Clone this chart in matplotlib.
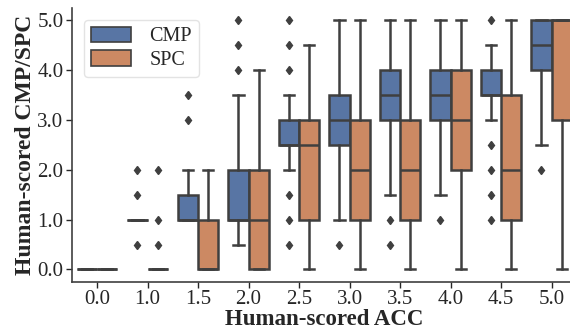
import numpy as np
import matplotlib
matplotlib.use('Agg')
import matplotlib.pyplot as plt
from matplotlib.patches import Patch

# categories on x axis (human-scored ACC)
cats = ['0.0', '1.0', '1.5', '2.0', '2.5', '3.0', '3.5', '4.0', '4.5', '5.0']

# CMP box statistics per category
cmp_q1 = [0.0, 1.0, 1.0, 1.0, 2.5, 2.5, 3.0, 3.0, 3.5, 4.0]
cmp_med = [0.0, 1.0, 1.0, 1.0, 2.5, 3.0, 3.5, 3.5, 3.5, 4.5]
cmp_q3 = [0.0, 1.0, 1.5, 2.0, 3.0, 3.5, 4.0, 4.0, 4.0, 5.0]
cmp_lo = [0.0, 1.0, 1.0, 0.5, 2.0, 1.0, 1.5, 1.5, 3.0, 2.5]
cmp_hi = [0.0, 1.0, 2.0, 3.5, 3.5, 5.0, 5.0, 5.0, 4.5, 5.0]
cmp_fliers = [[], [0.5, 1.5, 2.0], [3.0, 3.5], [4.0, 4.5, 5.0],
              [0.5, 1.0, 1.5, 4.0, 4.5, 5.0], [0.5], [0.5, 1.0], [1.0],
              [1.0, 1.5, 2.0, 2.5, 5.0], [2.0]]

# SPC box statistics per category
spc_q1 = [0.0, 0.0, 0.0, 0.0, 1.0, 1.0, 1.0, 2.0, 1.0, 3.0]
spc_med = [0.0, 0.0, 0.0, 1.0, 2.5, 2.0, 2.0, 3.0, 2.0, 5.0]
spc_q3 = [0.0, 0.0, 1.0, 2.0, 3.0, 3.0, 3.0, 4.0, 3.5, 5.0]
spc_lo = [0.0, 0.0, 0.0, 0.0, 0.0, 0.0, 0.0, 0.0, 0.0, 0.0]
spc_hi = [0.0, 0.0, 2.0, 4.0, 4.5, 5.0, 5.0, 5.0, 5.0, 5.0]
spc_fliers = [[], [0.5, 1.0, 2.0], [], [], [], [], [], [], [], []]

plt.rcParams['font.family'] = ['Liberation Serif', 'DejaVu Serif']
text_col = '#262626'
edge = '#3f3f3f'
blue = '#5875a4'
orange = '#cc8963'

def stats(q1, med, q3, lo, hi, fl):
    return [dict(q1=a, med=b, q3=c, whislo=d, whishi=e, fliers=f)
            for a, b, c, d, e, f in zip(q1, med, q3, lo, hi, fl)]

fig = plt.figure(figsize=(5.7, 3.29), dpi=100)
ax = fig.add_axes([0.126, 0.143, 0.886, 0.834])

x = np.arange(len(cats))
lw = 1.8
common = dict(widths=0.4, patch_artist=True, manage_ticks=False,
              whiskerprops=dict(color=edge, lw=lw),
              capprops=dict(color=edge, lw=lw),
              medianprops=dict(color=edge, lw=lw),
              flierprops=dict(marker='d', markerfacecolor=edge, markeredgecolor=edge,
                              markersize=4.5, linestyle='none'))
for st, pos, col in [(stats(cmp_q1, cmp_med, cmp_q3, cmp_lo, cmp_hi, cmp_fliers), x - 0.2, blue),
                     (stats(spc_q1, spc_med, spc_q3, spc_lo, spc_hi, spc_fliers), x + 0.2, orange)]:
    ax.bxp(st, positions=pos,
           boxprops=dict(facecolor=col, edgecolor=edge, lw=lw), **common)

ax.set_xlim(-0.5, 9.5)
ax.set_ylim(-0.25, 5.25)
ax.set_xticks(x)
ax.set_xticklabels(cats)
ax.set_yticks([0, 1, 2, 3, 4, 5])
ax.set_yticklabels(['0.0', '1.0', '2.0', '3.0', '4.0', '5.0'])
ax.tick_params(labelsize=15, colors=text_col, length=4, width=1, pad=2)
for s in ['top', 'right']:
    ax.spines[s].set_visible(False)
for s in ['left', 'bottom']:
    ax.spines[s].set_color(edge)
    ax.spines[s].set_linewidth(1.2)

ax.set_xlabel('Human-scored ACC', fontsize=16.5, fontweight='bold', color=text_col, labelpad=0)
ax.set_ylabel('Human-scored CMP/SPC', fontsize=17, fontweight='bold', color=text_col, labelpad=1)

handles = [Patch(facecolor=blue, edgecolor=edge, lw=1.2, label='CMP'),
           Patch(facecolor=orange, edgecolor=edge, lw=1.2, label='SPC')]
leg = ax.legend(handles=handles, loc='upper left', fontsize=14.5, frameon=True,
                handlelength=2.0, handleheight=0.8, borderaxespad=0.6,
                labelspacing=0.2, borderpad=0.35, handletextpad=0.9)
leg.get_frame().set_edgecolor('#dddddd')
for t in leg.get_texts():
    t.set_color(text_col)

fig.savefig('out.png')
